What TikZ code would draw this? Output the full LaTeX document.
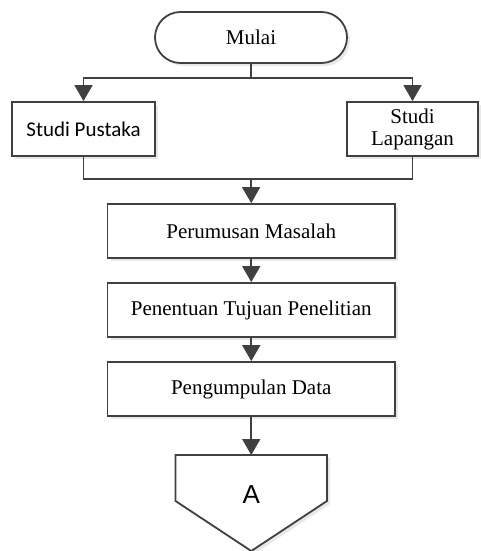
\documentclass[tikz,border=0pt]{standalone}
\usepackage{fontspec}
\setmainfont{Liberation Serif}
\newfontfamily\calfont{Carlito}
\newfontfamily\arialfont{Liberation Sans}
\usetikzlibrary{arrows.meta,shadows}
\definecolor{ln}{HTML}{404040}
\tikzset{
  box/.style={draw=ln, line width=1.8pt, fill=white, minimum height=54pt, inner sep=0pt,
    font=\fontsize{21}{24}\selectfont, align=center,
    drop shadow={opacity=0.18, shadow xshift=3pt, shadow yshift=-3pt, fill=gray}},
  conn/.style={draw=ln, line width=1.8pt},
  arr/.style={conn, -{Triangle[width=18pt,length=16pt]}}
}
\begin{document}
\begin{tikzpicture}[x=1pt,y=-1pt]
\useasboundingbox (0,0) rectangle (480,551);
\node[box, minimum width=192pt, minimum height=51pt, rounded corners=25.5pt] (mulai) at (251,37.5) {Mulai};
\node[box, minimum width=143pt, font=\calfont\fontsize{21}{24}\selectfont] (sp) at (83.5,129) {Studi Pustaka};
\node[box, minimum width=131pt] (sl) at (412.5,129) {Studi\\[-2pt]Lapangan};
\node[box, minimum width=287.5pt] (pm) at (251.25,231) {Perumusan Masalah};
\node[box, minimum width=287.5pt] (pt) at (251.25,310) {Penentuan Tujuan Penelitian};
\node[box, minimum width=287.5pt] (pd) at (251.25,389) {Pengumpulan Data};
\coordinate (ctop) at (251.25,455);
\coordinate (split) at (251,78);
\coordinate (join) at (251,179);
\fill[gray, opacity=0.18] (178.5,458) -- (330,458) -- (330,504) -- (254.25,554) -- (178.5,504) -- cycle;
\draw[conn, fill=white] (175.5,455) -- (327,455) -- (327,501) -- (251.25,551) -- (175.5,501) -- cycle;
\node[font=\arialfont\fontsize{26}{30}\selectfont] (A) at (251.25,495) {A};
\draw[conn] (mulai.south) -- (split);
\draw[arr] (split) -| (sp.north);
\draw[arr] (split) -| (sl.north);
\draw[conn] (sp.south) |- (join);
\draw[conn] (sl.south) |- (join);
\draw[arr] (join) -- (pm.north);
\draw[arr] (pm) -- (pt);
\draw[arr] (pt) -- (pd);
\draw[arr] (pd) -- (ctop);
\end{tikzpicture}
\end{document}
